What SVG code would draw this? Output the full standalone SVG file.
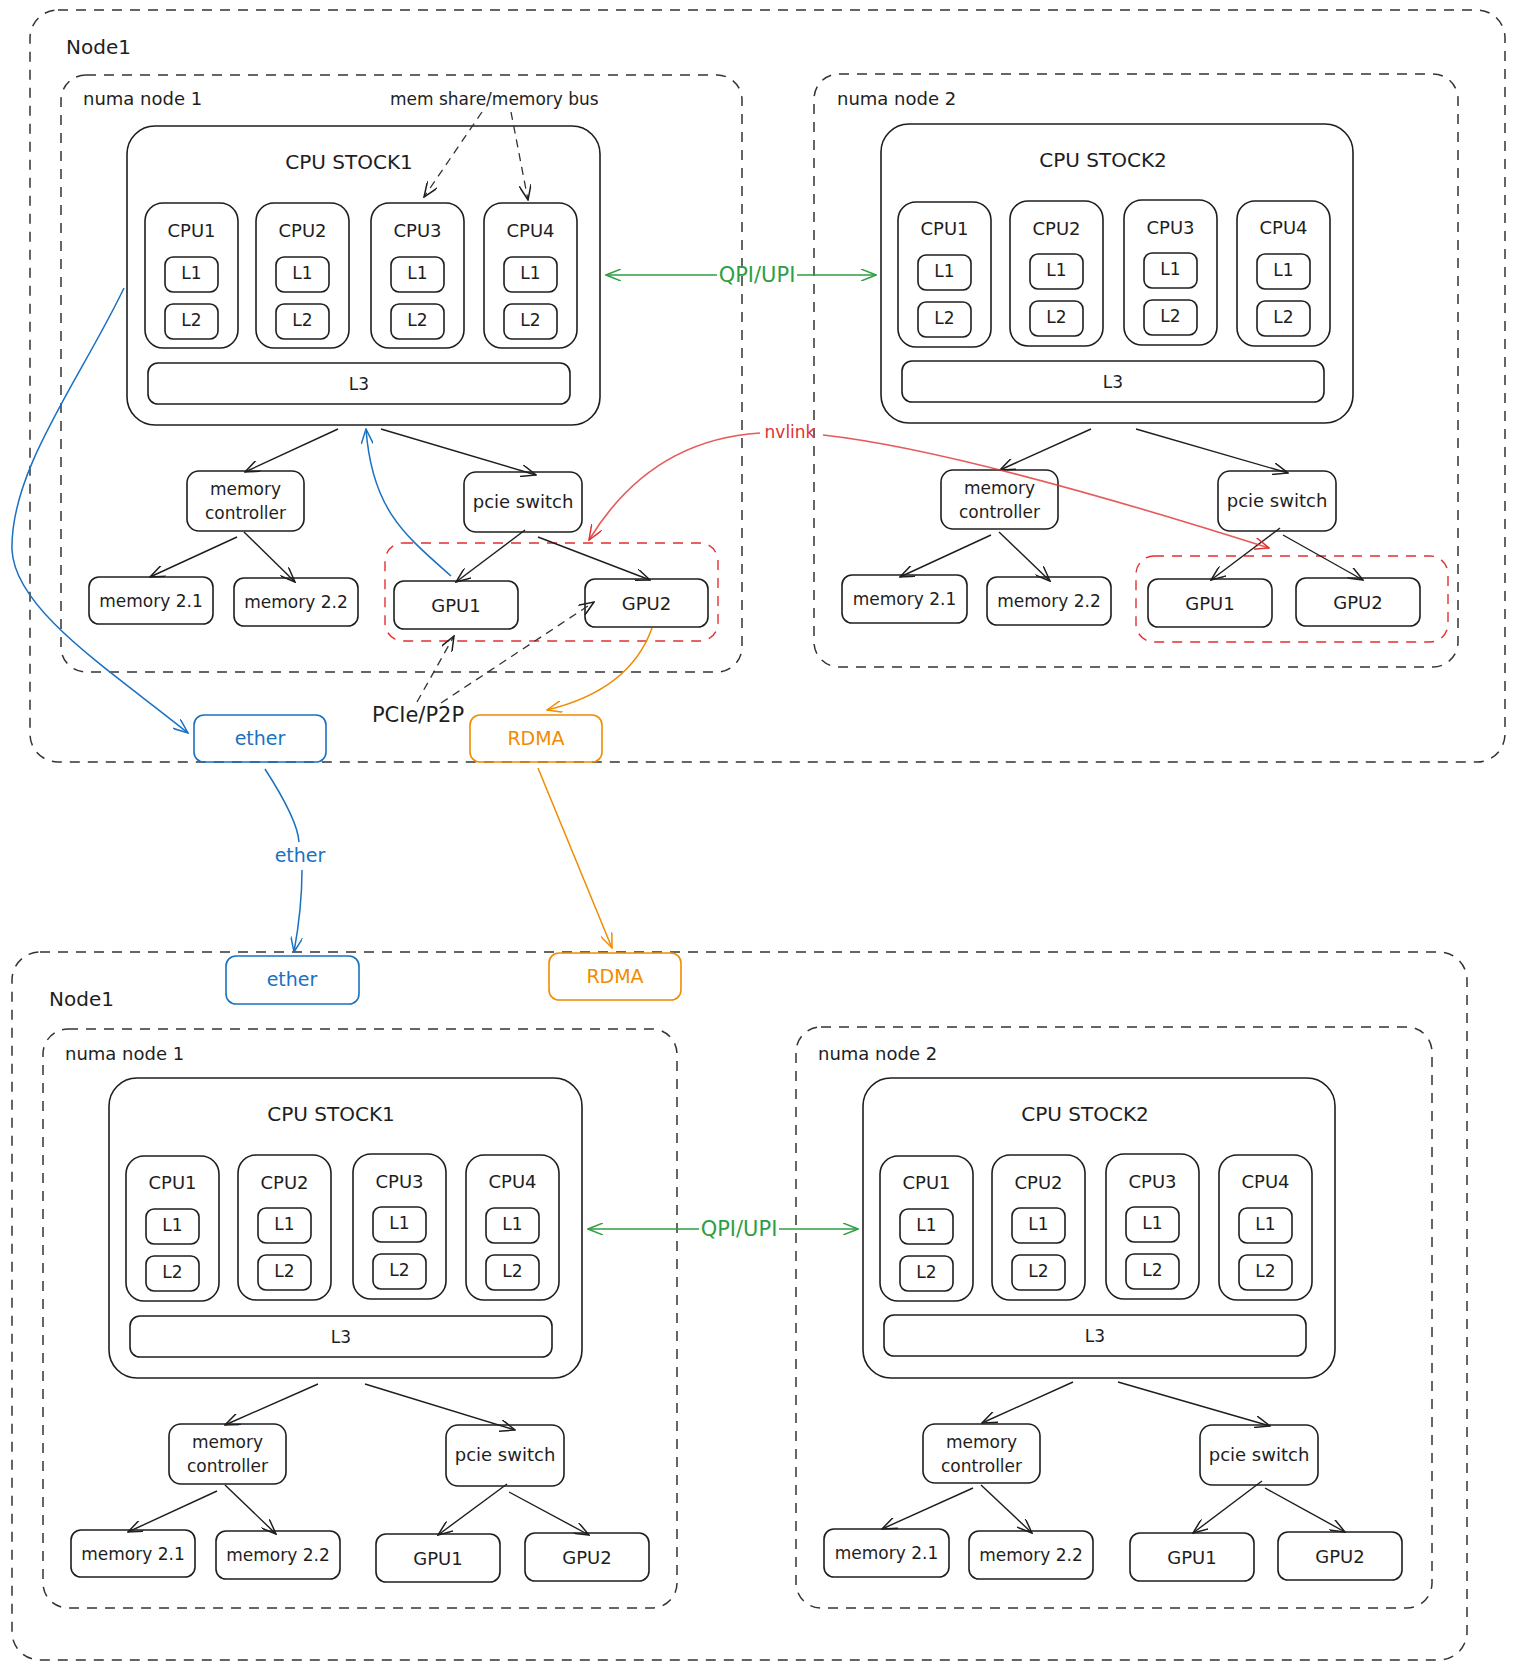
<svg xmlns="http://www.w3.org/2000/svg" width="1515" height="1670" viewBox="0 0 1515 1670">
<style>
.b{fill:none;stroke:#1e1e1e;stroke-width:1.6}
.fr{fill:none;stroke:#333;stroke-width:1.5;stroke-dasharray:10 8}
.rg{fill:none;stroke:#e03131;stroke-width:1.4;stroke-dasharray:10 8}
.t{font-family:"DejaVu Sans",sans-serif;fill:#1e1e1e;text-anchor:middle}
.s{font-family:"DejaVu Sans",sans-serif;fill:#1e1e1e}
.f21{font-size:21px}.f20{font-size:20px}.f19{font-size:19px}.f18{font-size:18px}.f17{font-size:17px}
.c{fill:none;stroke:#1e1e1e;stroke-width:1.4;marker-end:url(#ah)}
.cd{fill:none;stroke:#333;stroke-width:1.3;stroke-dasharray:8 6;marker-end:url(#ah)}
.blue{fill:#1971c2}.orange{fill:#f08c00}.green{fill:#2f9e44}.red{fill:#e03131}
</style>
<defs>
<marker id="ah" viewBox="0 0 16 12" refX="15" refY="6" markerWidth="16" markerHeight="12" markerUnits="userSpaceOnUse" orient="auto-start-reverse"><path d="M0,0 L15,6 L0,12" fill="none" stroke="#1e1e1e" stroke-width="1.5"/></marker>
<marker id="ahb" viewBox="0 0 16 12" refX="15" refY="6" markerWidth="16" markerHeight="12" markerUnits="userSpaceOnUse" orient="auto-start-reverse"><path d="M0,0 L15,6 L0,12" fill="none" stroke="#1971c2" stroke-width="1.5"/></marker>
<marker id="ahg" viewBox="0 0 16 12" refX="15" refY="6" markerWidth="16" markerHeight="12" markerUnits="userSpaceOnUse" orient="auto-start-reverse"><path d="M0,0 L15,6 L0,12" fill="none" stroke="#2f9e44" stroke-width="1.5"/></marker>
<marker id="aho" viewBox="0 0 16 12" refX="15" refY="6" markerWidth="16" markerHeight="12" markerUnits="userSpaceOnUse" orient="auto-start-reverse"><path d="M0,0 L15,6 L0,12" fill="none" stroke="#f08c00" stroke-width="1.5"/></marker>
<marker id="ahr" viewBox="0 0 16 12" refX="15" refY="6" markerWidth="16" markerHeight="12" markerUnits="userSpaceOnUse" orient="auto-start-reverse"><path d="M0,0 L15,6 L0,12" fill="none" stroke="#e03131" stroke-width="1.5"/></marker>
</defs>
<rect width="1515" height="1670" fill="#ffffff"/>

<!-- ===== TOP HOST ===== -->
<g id="top-node1"><rect class="fr" x="30" y="10" width="1475" height="752" rx="28"/><text class="s f20" x="66" y="54">Node1</text></g>
<g id="top-numa1"><rect class="fr" x="61" y="75" width="681" height="597" rx="25"/><text class="s f18" x="83" y="105">numa node 1</text></g>
<g id="top-numa2"><rect class="fr" x="814" y="74" width="644" height="593" rx="25"/><text class="s f18" x="837" y="105">numa node 2</text></g>
<g id="top-gpu-group1"><rect class="rg" x="385" y="543" width="333" height="98" rx="18"/></g>
<g id="top-gpu-group2"><rect class="rg" x="1136" y="556" width="312" height="86" rx="18"/></g>
<g id="mem-share-label"><text class="s f17" x="390" y="105">mem share/memory bus</text></g>
<g id="pcie-p2p-label"><text class="t f21" x="418" y="722">PCIe/P2P</text></g>

<!-- top numa 1 contents -->
<g transform="translate(127,126)">
<g id="t1-stock"><rect class="b" x="0" y="0" width="473" height="299" rx="28"/><text class="t f20" x="222" y="43">CPU STOCK1</text></g>
<g id="t1-cpu1"><rect class="b" x="18" y="77" width="93" height="145" rx="18"/><text class="t f18" x="64.5" y="111">CPU1</text></g>
<g id="t1-cpu1-l1"><rect class="b" x="38" y="131" width="53" height="35" rx="8"/><text class="t f17" x="64.5" y="153">L1</text></g>
<g id="t1-cpu1-l2"><rect class="b" x="38" y="178" width="53" height="35" rx="8"/><text class="t f17" x="64.5" y="200">L2</text></g>
<g id="t1-cpu2"><rect class="b" x="129" y="77" width="93" height="145" rx="18"/><text class="t f18" x="175.5" y="111">CPU2</text></g>
<g id="t1-cpu2-l1"><rect class="b" x="149" y="131" width="53" height="35" rx="8"/><text class="t f17" x="175.5" y="153">L1</text></g>
<g id="t1-cpu2-l2"><rect class="b" x="149" y="178" width="53" height="35" rx="8"/><text class="t f17" x="175.5" y="200">L2</text></g>
<g id="t1-cpu3"><rect class="b" x="244" y="77" width="93" height="145" rx="18"/><text class="t f18" x="290.5" y="111">CPU3</text></g>
<g id="t1-cpu3-l1"><rect class="b" x="264" y="131" width="53" height="35" rx="8"/><text class="t f17" x="290.5" y="153">L1</text></g>
<g id="t1-cpu3-l2"><rect class="b" x="264" y="178" width="53" height="35" rx="8"/><text class="t f17" x="290.5" y="200">L2</text></g>
<g id="t1-cpu4"><rect class="b" x="357" y="77" width="93" height="145" rx="18"/><text class="t f18" x="403.5" y="111">CPU4</text></g>
<g id="t1-cpu4-l1"><rect class="b" x="377" y="131" width="53" height="35" rx="8"/><text class="t f17" x="403.5" y="153">L1</text></g>
<g id="t1-cpu4-l2"><rect class="b" x="377" y="178" width="53" height="35" rx="8"/><text class="t f17" x="403.5" y="200">L2</text></g>
<g id="t1-l3"><rect class="b" x="21" y="237" width="422" height="41" rx="10"/><text class="t f17" x="232" y="264">L3</text></g>
<g id="t1-memctrl"><rect class="b" x="60" y="345" width="117" height="60" rx="12"/><text class="t f17" x="118.5" y="369">memory</text><text class="t f17" x="118.5" y="393">controller</text></g>
<g id="t1-pcie"><rect class="b" x="337" y="346" width="118" height="60" rx="12"/><text class="t f18" x="396" y="382">pcie switch</text></g>
<g id="t1-mem21"><rect class="b" x="-38" y="451" width="124" height="47" rx="10"/><text class="t f17" x="24" y="481">memory 2.1</text></g>
<g id="t1-mem22"><rect class="b" x="107" y="452" width="124" height="48" rx="10"/><text class="t f17" x="169" y="482">memory 2.2</text></g>
<g id="t1-gpu1"><rect class="b" x="267" y="455" width="124" height="48" rx="10"/><text class="t f18" x="329" y="486">GPU1</text></g>
<g id="t1-gpu2"><rect class="b" x="458" y="453" width="123" height="48" rx="10"/><text class="t f18" x="519.5" y="484">GPU2</text></g>
</g>

<!-- top numa 2 contents -->
<g transform="translate(881,124)">
<g id="t2-stock"><rect class="b" x="0" y="0" width="472" height="299" rx="28"/><text class="t f20" x="222" y="43">CPU STOCK2</text></g>
<g id="t2-cpu1"><rect class="b" x="17" y="78" width="93" height="145" rx="18"/><text class="t f18" x="63.5" y="111">CPU1</text></g>
<g id="t2-cpu1-l1"><rect class="b" x="37" y="131" width="53" height="35" rx="8"/><text class="t f17" x="63.5" y="153">L1</text></g>
<g id="t2-cpu1-l2"><rect class="b" x="37" y="178" width="53" height="35" rx="8"/><text class="t f17" x="63.5" y="200">L2</text></g>
<g id="t2-cpu2"><rect class="b" x="129" y="77" width="93" height="145" rx="18"/><text class="t f18" x="175.5" y="111">CPU2</text></g>
<g id="t2-cpu2-l1"><rect class="b" x="149" y="130" width="53" height="35" rx="8"/><text class="t f17" x="175.5" y="152">L1</text></g>
<g id="t2-cpu2-l2"><rect class="b" x="149" y="177" width="53" height="35" rx="8"/><text class="t f17" x="175.5" y="199">L2</text></g>
<g id="t2-cpu3"><rect class="b" x="243" y="76" width="93" height="145" rx="18"/><text class="t f18" x="289.5" y="110">CPU3</text></g>
<g id="t2-cpu3-l1"><rect class="b" x="263" y="129" width="53" height="35" rx="8"/><text class="t f17" x="289.5" y="151">L1</text></g>
<g id="t2-cpu3-l2"><rect class="b" x="263" y="176" width="53" height="35" rx="8"/><text class="t f17" x="289.5" y="198">L2</text></g>
<g id="t2-cpu4"><rect class="b" x="356" y="77" width="93" height="145" rx="18"/><text class="t f18" x="402.5" y="110">CPU4</text></g>
<g id="t2-cpu4-l1"><rect class="b" x="376" y="130" width="53" height="35" rx="8"/><text class="t f17" x="402.5" y="152">L1</text></g>
<g id="t2-cpu4-l2"><rect class="b" x="376" y="177" width="53" height="35" rx="8"/><text class="t f17" x="402.5" y="199">L2</text></g>
<g id="t2-l3"><rect class="b" x="21" y="237" width="422" height="41" rx="10"/><text class="t f17" x="232" y="264">L3</text></g>
<g id="t2-memctrl"><rect class="b" x="60" y="346" width="117" height="59" rx="12"/><text class="t f17" x="118.5" y="370">memory</text><text class="t f17" x="118.5" y="394">controller</text></g>
<g id="t2-pcie"><rect class="b" x="337" y="347" width="118" height="60" rx="12"/><text class="t f18" x="396" y="383">pcie switch</text></g>
<g id="t2-mem21"><rect class="b" x="-39" y="451" width="125" height="48" rx="10"/><text class="t f17" x="23.5" y="481">memory 2.1</text></g>
<g id="t2-mem22"><rect class="b" x="106" y="453" width="124" height="48" rx="10"/><text class="t f17" x="168" y="483">memory 2.2</text></g>
<g id="t2-gpu1"><rect class="b" x="267" y="455" width="124" height="48" rx="10"/><text class="t f18" x="329" y="486">GPU1</text></g>
<g id="t2-gpu2"><rect class="b" x="415" y="454" width="124" height="48" rx="10"/><text class="t f18" x="477" y="485">GPU2</text></g>
</g>

<g id="top-ether"><rect x="194" y="715" width="132" height="47" rx="10" fill="none" stroke="#1971c2" stroke-width="1.6"/><text class="t f19 blue" x="260" y="745">ether</text></g>
<g id="top-rdma"><rect x="470" y="715" width="132" height="47" rx="10" fill="none" stroke="#f08c00" stroke-width="1.6"/><text class="t f19 orange" x="536" y="745">RDMA</text></g>

<!-- ===== BOTTOM HOST ===== -->
<g id="bot-node1"><rect class="fr" x="12" y="952" width="1455" height="708" rx="28"/><text class="s f20" x="49" y="1006">Node1</text></g>
<g id="bot-numa1"><rect class="fr" x="43" y="1029" width="634" height="579" rx="25"/><text class="s f18" x="65" y="1060">numa node 1</text></g>
<g id="bot-numa2"><rect class="fr" x="796" y="1027" width="636" height="581" rx="25"/><text class="s f18" x="818" y="1060">numa node 2</text></g>
<g id="bot-ether"><rect x="226" y="956" width="133" height="48" rx="10" fill="none" stroke="#1971c2" stroke-width="1.6"/><text class="t f19 blue" x="292" y="986">ether</text></g>
<g id="bot-rdma"><rect x="549" y="953" width="132" height="47" rx="10" fill="none" stroke="#f08c00" stroke-width="1.6"/><text class="t f19 orange" x="615" y="983">RDMA</text></g>

<g transform="translate(109,1078)">
<g id="b1-stock"><rect class="b" x="0" y="0" width="473" height="300" rx="28"/><text class="t f20" x="222" y="43">CPU STOCK1</text></g>
<g id="b1-cpu1"><rect class="b" x="17" y="78" width="93" height="145" rx="18"/><text class="t f18" x="63.5" y="111">CPU1</text></g>
<g id="b1-cpu1-l1"><rect class="b" x="37" y="131" width="53" height="35" rx="8"/><text class="t f17" x="63.5" y="153">L1</text></g>
<g id="b1-cpu1-l2"><rect class="b" x="37" y="178" width="53" height="35" rx="8"/><text class="t f17" x="63.5" y="200">L2</text></g>
<g id="b1-cpu2"><rect class="b" x="129" y="77" width="93" height="145" rx="18"/><text class="t f18" x="175.5" y="111">CPU2</text></g>
<g id="b1-cpu2-l1"><rect class="b" x="149" y="130" width="53" height="35" rx="8"/><text class="t f17" x="175.5" y="152">L1</text></g>
<g id="b1-cpu2-l2"><rect class="b" x="149" y="177" width="53" height="35" rx="8"/><text class="t f17" x="175.5" y="199">L2</text></g>
<g id="b1-cpu3"><rect class="b" x="244" y="76" width="93" height="145" rx="18"/><text class="t f18" x="290.5" y="110">CPU3</text></g>
<g id="b1-cpu3-l1"><rect class="b" x="264" y="129" width="53" height="35" rx="8"/><text class="t f17" x="290.5" y="151">L1</text></g>
<g id="b1-cpu3-l2"><rect class="b" x="264" y="176" width="53" height="35" rx="8"/><text class="t f17" x="290.5" y="198">L2</text></g>
<g id="b1-cpu4"><rect class="b" x="357" y="77" width="93" height="145" rx="18"/><text class="t f18" x="403.5" y="110">CPU4</text></g>
<g id="b1-cpu4-l1"><rect class="b" x="377" y="130" width="53" height="35" rx="8"/><text class="t f17" x="403.5" y="152">L1</text></g>
<g id="b1-cpu4-l2"><rect class="b" x="377" y="177" width="53" height="35" rx="8"/><text class="t f17" x="403.5" y="199">L2</text></g>
<g id="b1-l3"><rect class="b" x="21" y="238" width="422" height="41" rx="10"/><text class="t f17" x="232" y="265">L3</text></g>
<g id="b1-memctrl"><rect class="b" x="60" y="346" width="117" height="60" rx="12"/><text class="t f17" x="118.5" y="370">memory</text><text class="t f17" x="118.5" y="394">controller</text></g>
<g id="b1-pcie"><rect class="b" x="337" y="347" width="118" height="61" rx="12"/><text class="t f18" x="396" y="383">pcie switch</text></g>
<g id="b1-mem21"><rect class="b" x="-38" y="452" width="124" height="47" rx="10"/><text class="t f17" x="24" y="482">memory 2.1</text></g>
<g id="b1-mem22"><rect class="b" x="107" y="453" width="124" height="48" rx="10"/><text class="t f17" x="169" y="483">memory 2.2</text></g>
<g id="b1-gpu1"><rect class="b" x="267" y="456" width="124" height="48" rx="10"/><text class="t f18" x="329" y="487">GPU1</text></g>
<g id="b1-gpu2"><rect class="b" x="416" y="455" width="124" height="48" rx="10"/><text class="t f18" x="478" y="486">GPU2</text></g>
</g>

<g transform="translate(863,1078)">
<g id="b2-stock"><rect class="b" x="0" y="0" width="472" height="300" rx="28"/><text class="t f20" x="222" y="43">CPU STOCK2</text></g>
<g id="b2-cpu1"><rect class="b" x="17" y="78" width="93" height="145" rx="18"/><text class="t f18" x="63.5" y="111">CPU1</text></g>
<g id="b2-cpu1-l1"><rect class="b" x="37" y="131" width="53" height="35" rx="8"/><text class="t f17" x="63.5" y="153">L1</text></g>
<g id="b2-cpu1-l2"><rect class="b" x="37" y="178" width="53" height="35" rx="8"/><text class="t f17" x="63.5" y="200">L2</text></g>
<g id="b2-cpu2"><rect class="b" x="129" y="77" width="93" height="145" rx="18"/><text class="t f18" x="175.5" y="111">CPU2</text></g>
<g id="b2-cpu2-l1"><rect class="b" x="149" y="130" width="53" height="35" rx="8"/><text class="t f17" x="175.5" y="152">L1</text></g>
<g id="b2-cpu2-l2"><rect class="b" x="149" y="177" width="53" height="35" rx="8"/><text class="t f17" x="175.5" y="199">L2</text></g>
<g id="b2-cpu3"><rect class="b" x="243" y="76" width="93" height="145" rx="18"/><text class="t f18" x="289.5" y="110">CPU3</text></g>
<g id="b2-cpu3-l1"><rect class="b" x="263" y="129" width="53" height="35" rx="8"/><text class="t f17" x="289.5" y="151">L1</text></g>
<g id="b2-cpu3-l2"><rect class="b" x="263" y="176" width="53" height="35" rx="8"/><text class="t f17" x="289.5" y="198">L2</text></g>
<g id="b2-cpu4"><rect class="b" x="356" y="77" width="93" height="145" rx="18"/><text class="t f18" x="402.5" y="110">CPU4</text></g>
<g id="b2-cpu4-l1"><rect class="b" x="376" y="130" width="53" height="35" rx="8"/><text class="t f17" x="402.5" y="152">L1</text></g>
<g id="b2-cpu4-l2"><rect class="b" x="376" y="177" width="53" height="35" rx="8"/><text class="t f17" x="402.5" y="199">L2</text></g>
<g id="b2-l3"><rect class="b" x="21" y="237" width="422" height="41" rx="10"/><text class="t f17" x="232" y="264">L3</text></g>
<g id="b2-memctrl"><rect class="b" x="60" y="346" width="117" height="59" rx="12"/><text class="t f17" x="118.5" y="370">memory</text><text class="t f17" x="118.5" y="394">controller</text></g>
<g id="b2-pcie"><rect class="b" x="337" y="347" width="118" height="60" rx="12"/><text class="t f18" x="396" y="383">pcie switch</text></g>
<g id="b2-mem21"><rect class="b" x="-39" y="451" width="125" height="48" rx="10"/><text class="t f17" x="23.5" y="481">memory 2.1</text></g>
<g id="b2-mem22"><rect class="b" x="106" y="453" width="124" height="48" rx="10"/><text class="t f17" x="168" y="483">memory 2.2</text></g>
<g id="b2-gpu1"><rect class="b" x="267" y="455" width="124" height="48" rx="10"/><text class="t f18" x="329" y="486">GPU1</text></g>
<g id="b2-gpu2"><rect class="b" x="415" y="454" width="124" height="48" rx="10"/><text class="t f18" x="477" y="485">GPU2</text></g>
</g>

<!-- ===== CONNECTORS ===== -->
<g id="connectors">
<path class="c" d="M338,429 L245,472"/>
<path class="c" d="M381,429 L536,475"/>
<path class="c" d="M237,537 L150,577"/>
<path class="c" d="M244,532 L295,582"/>
<path class="c" d="M525,530 L456,582"/>
<path class="c" d="M538,537 L650,580"/>
<path class="c" d="M1091,429 L1000,470"/>
<path class="c" d="M1136,429 L1288,473"/>
<path class="c" d="M991,535 L900,577"/>
<path class="c" d="M999,532 L1050,581"/>
<path class="c" d="M1280,528 L1211,580"/>
<path class="c" d="M1283,535 L1363,580"/>
<path class="c" d="M318,1384 L225,1425"/>
<path class="c" d="M365,1384 L515,1430"/>
<path class="c" d="M217,1491 L128,1532"/>
<path class="c" d="M225,1485 L276,1534"/>
<path class="c" d="M507,1484 L438,1535"/>
<path class="c" d="M509,1492 L589,1535"/>
<path class="c" d="M1073,1382 L982,1423"/>
<path class="c" d="M1118,1382 L1270,1426"/>
<path class="c" d="M973,1488 L882,1529"/>
<path class="c" d="M981,1485 L1032,1533"/>
<path class="c" d="M1262,1481 L1193,1533"/>
<path class="c" d="M1265,1488 L1345,1532"/>
<path class="cd" d="M482,112 L424,197"/>
<path class="cd" d="M511,112 L528,200"/>
<path class="cd" d="M417,702 L454,636"/>
<path class="cd" d="M441,703 L594,602"/>
<path d="M606,275 L717,275 M797,275 L876,275" fill="none" stroke="#2f9e44" stroke-width="1.6" marker-start="url(#ahg)" marker-end="url(#ahg)"/>
<text class="t f21 green" x="757" y="282">QPI/UPI</text>
<path d="M588,1229 L699,1229 M779,1229 L858,1229" fill="none" stroke="#2f9e44" stroke-width="1.6" marker-start="url(#ahg)" marker-end="url(#ahg)"/>
<text class="t f21 green" x="739" y="1236">QPI/UPI</text>
<path d="M451,576 C405,535 372,510 366,429" fill="none" stroke="#1971c2" stroke-width="1.5" marker-end="url(#ahb)"/>
<path d="M124,288 C80,380 10,470 12,550 C15,610 110,670 188,733" fill="none" stroke="#1971c2" stroke-width="1.5" marker-end="url(#ahb)"/>
<path d="M652,628 Q630,690 547,710" fill="none" stroke="#f08c00" stroke-width="1.5" marker-end="url(#aho)"/>
<path d="M760,433 Q650,440 589,540" fill="none" stroke="#e03131" stroke-width="1.6" stroke-opacity="0.8" marker-end="url(#ahr)"/>
<path d="M823,435 Q960,450 1269,548" fill="none" stroke="#e03131" stroke-width="1.6" stroke-opacity="0.8" marker-end="url(#ahr)"/>
<text class="t f17 red" x="790" y="438">nvlink</text>
<path d="M265,769 C285,800 298,825 299,842 M302,870 C302,900 298,930 294,952" fill="none" stroke="#1971c2" stroke-width="1.5" marker-end="url(#ahb)"/>
<text class="t f19 blue" x="300" y="862">ether</text>
<path d="M538,768 L612,948" fill="none" stroke="#f08c00" stroke-width="1.5" marker-end="url(#aho)"/>
</g>
</svg>
